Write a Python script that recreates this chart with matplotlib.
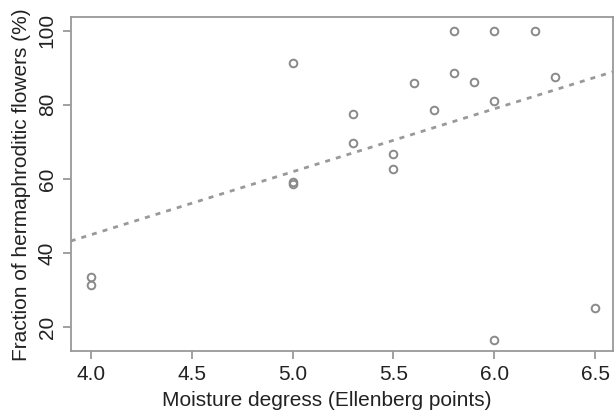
import numpy as np
import matplotlib
matplotlib.use("Agg")
import matplotlib.pyplot as plt

plt.rcParams['font.family'] = ['Liberation Sans', 'DejaVu Sans']

# moisture (Ellenberg) vs fraction hermaphroditic flowers
moisture = [4.0, 4.0, 5.0, 5.0, 5.0, 5.3, 5.3, 5.5, 5.5, 5.6,
            5.7, 5.8, 5.8, 5.9, 6.0, 6.0, 6.0, 6.2, 6.3, 6.5]
herm_pct = [33.4, 31.2, 91.4, 58.6, 59.1, 77.5, 69.6, 66.8, 62.6, 85.8,
            78.6, 100.0, 88.6, 86.2, 100.0, 81.0, 16.6, 100.0, 87.6, 25.0]

# fitted trend line (intercept, slope)
trend_coef = [-23.1, 17.0]

x_ticks = [4.0, 4.5, 5.0, 5.5, 6.0, 6.5]
y_ticks = [20, 40, 60, 80, 100]

grey = '#999999'

fig = plt.figure(figsize=(6.15, 4.13), dpi=100)
ax = fig.add_axes([0.115, 0.15, 0.882, 0.808])

ax.plot(moisture, herm_pct, 'o', mfc='none', mec='#8a8a8a', ms=5.5, mew=1.4)

xl = np.array([3.9, 6.59])
ax.plot(xl, trend_coef[0] + trend_coef[1] * xl, color=grey, lw=2,
        linestyle=(0, (1.8, 2.2)))

ax.set_xlim(3.9, 6.59)
ax.set_ylim(13.5, 103.6)
ax.set_xticks(x_ticks)
ax.set_xticklabels([f'{v:.1f}' for v in x_ticks])
ax.set_yticks(y_ticks)
ax.set_yticklabels([str(v) for v in y_ticks], rotation=90, va='center')

for s in ax.spines.values():
    s.set_color(grey)
    s.set_linewidth(1.3)
ax.tick_params(direction='out', length=6, width=1.3, color=grey,
               labelsize=15, labelcolor='#222222', pad=4)

ax.set_xlabel('Moisture degress (Ellenberg points)', fontsize=15,
              color='#222222')
ax.xaxis.set_label_coords(0.472, -0.12, transform=ax.transAxes)
ax.xaxis.label.set_va('top')
ax.set_ylabel('Fraction of hermaphroditic flowers (%)', fontsize=15,
              color='#222222', labelpad=5)

fig.savefig('out.png', dpi=100)
